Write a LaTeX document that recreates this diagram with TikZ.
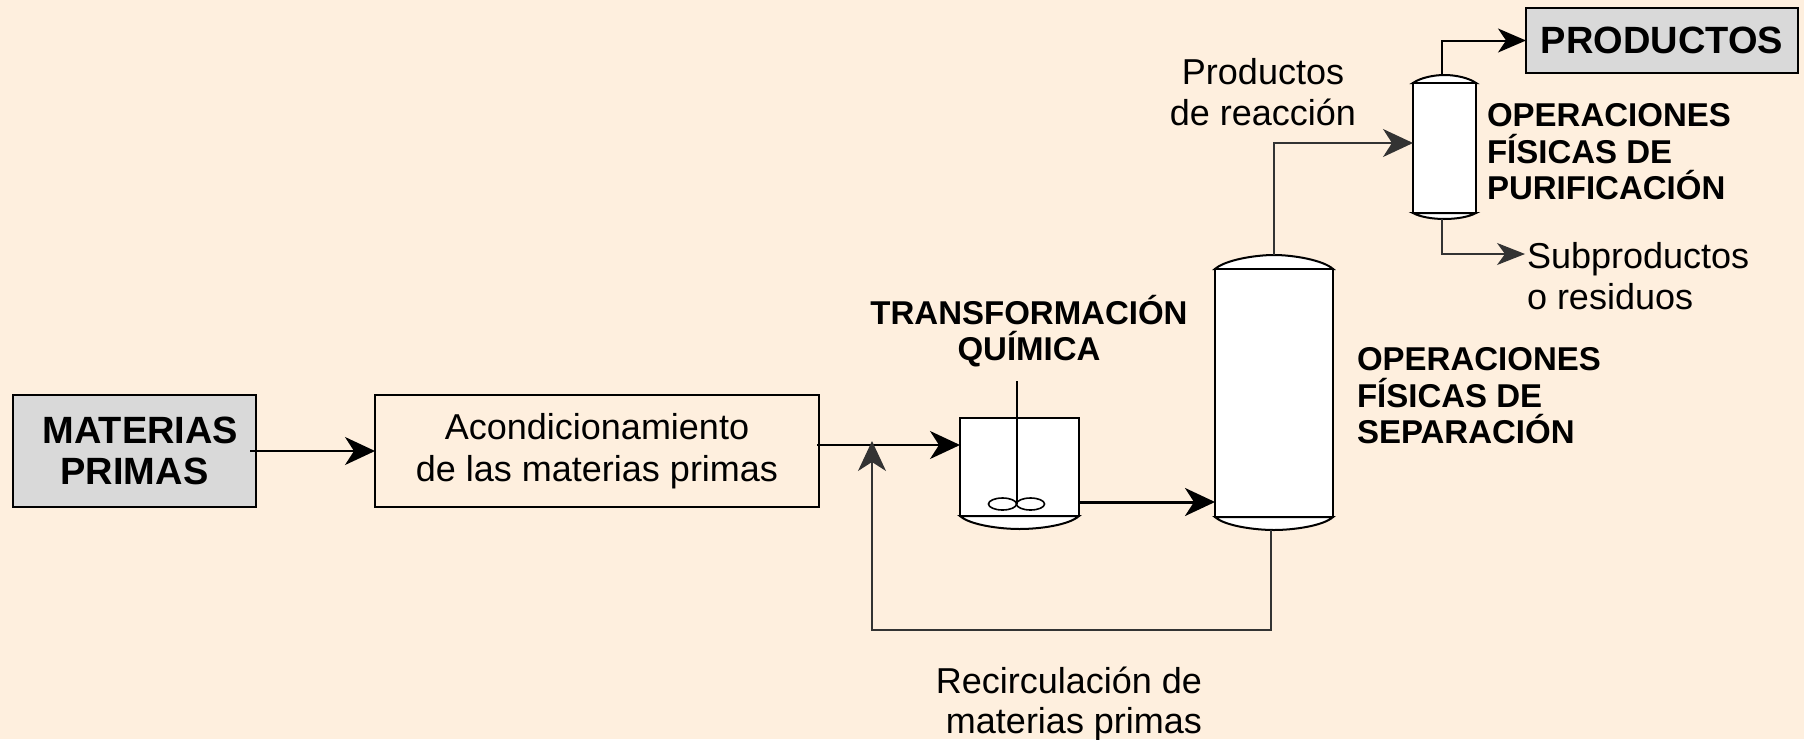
\documentclass[tikz,border=0pt]{standalone}
\usepackage{fontspec}
\setmainfont{Liberation Sans}
\usetikzlibrary{arrows.meta,calc,shapes.geometric}
\definecolor{bgc}{HTML}{FEEFDE}
\definecolor{feedc}{HTML}{D9D9D9}
\tikzset{
  bigtip/.style={-{Stealth[length=30pt,width=28pt,inset=9pt]}},
  midtip/.style={-{Stealth[length=28pt,width=24pt,inset=8pt]}},
  thinline/.style={line width=1.2pt,draw=black!80},
  medline/.style={line width=2pt},
  thickline/.style={line width=3pt},
  feedbox/.style={draw,line width=2.2pt,fill=feedc,inner sep=0pt,outer sep=0pt,align=center,font=\fontsize{38}{41.5}\selectfont\bfseries},
  procbox/.style={draw,line width=2pt,fill=none,inner sep=0pt,outer sep=0pt,align=center,font=\fontsize{36}{41.5}\selectfont},
  vessel/.style={draw,line width=2pt,fill=white,inner sep=0pt,outer sep=0pt},
  plain/.style={inner sep=0pt,outer sep=0pt,align=center,font=\fontsize{36}{41.5}\selectfont},
  plainl/.style={plain,align=left},
  boldl/.style={inner sep=0pt,outer sep=0pt,align=left,font=\fontsize{33}{36.5}\selectfont\bfseries},
  boldc/.style={boldl,align=center},
  dish/.style={line width=2pt,fill=white},
  paddle/.style={draw,line width=1.6pt,fill=white,ellipse,inner sep=0pt,outer sep=0pt,minimum width=28pt,minimum height=12pt}
}
\begin{document}
\begin{tikzpicture}[x=1pt,y=-1pt]
\useasboundingbox (0,0) rectangle (1804,739);
\fill[bgc] (0,0) rectangle (1804,739);

% boxes
\node[feedbox,minimum width=243pt,minimum height=112pt] (mat) at (134.5,451) {\hspace*{12pt}MATERIAS\\PRIMAS};
\node[procbox,minimum width=444pt,minimum height=112pt] (cond) at (597,451) {Acondicionamiento\\de las materias primas};
\node[feedbox,minimum width=272pt,minimum height=65pt] (prod) at (1662,40.5) {PRODUCTOS};

% vessels: dishes first
\coordinate (rsw) at (960,516); \coordinate (rse) at (1079,516);
\draw[dish] (rsw) .. controls (970,525) and (1000,529) .. (1019.5,529) .. controls (1040,529) and (1069,525) .. (rse) -- cycle;
\node[vessel,minimum width=119pt,minimum height=98pt] (reactor) at (1019.5,467) {};

\coordinate (csw) at (1215,517); \coordinate (cse) at (1333,517);
\coordinate (cnw) at (1215,269); \coordinate (cne) at (1333,269);
\draw[dish] (csw) .. controls (1225,526) and (1255,530) .. (1274,530) .. controls (1293,530) and (1323,526) .. (cse) -- cycle;
\draw[dish] (cnw) .. controls (1225,260) and (1255,255) .. (1274,255) .. controls (1293,255) and (1323,260) .. (cne) -- cycle;
\node[vessel,minimum width=118pt,minimum height=248pt] (col) at (1274,393) {};

\coordinate (pnw) at (1413,83); \coordinate (pne) at (1476,83);
\coordinate (psw) at (1413,213); \coordinate (pse) at (1476,213);
\draw[dish] (pnw) .. controls (1420,78) and (1433,75) .. (1444.5,75) .. controls (1456,75) and (1469,78) .. (pne) -- cycle;
\draw[dish] (psw) .. controls (1420,217) and (1433,219) .. (1444.5,219) .. controls (1456,219) and (1469,217) .. (pse) -- cycle;
\node[vessel,minimum width=63pt,minimum height=130pt] (pur) at (1444.5,148) {};

% agitator
\coordinate (shafttop) at (1017,381);
\coordinate (shaftbot) at (1017,504);
\node[paddle] (padl) at (1002.5,504) {};
\node[paddle] (padr) at (1030.5,504) {};
\draw[line width=2pt] (shafttop) -- (shaftbot);

% texts
\node[plain,anchor=base] (rec1) at (1069,693) {Recirculación de};
\node[plain,anchor=base] (rec2) at (1074,733) {materias primas};
\node[plain,anchor=base] (pr1) at (1263,84) {Productos};
\node[plain,anchor=base] (pr2) at (1263,125) {de reacción};
\node[plain,anchor=base west] (sub1) at (1527,268) {Subproductos};
\node[plain,anchor=base west] (sub2) at (1527,309) {o residuos};
\node[boldl,anchor=base west] (op1) at (1487,126) {OPERACIONES};
\node[boldl,anchor=base west] (op2) at (1487,163) {FÍSICAS DE};
\node[boldl,anchor=base west] (op3) at (1487,199) {PURIFICACIÓN};
\node[boldl,anchor=base west] (os1) at (1357,370) {OPERACIONES};
\node[boldl,anchor=base west] (os2) at (1357,407) {FÍSICAS DE};
\node[boldl,anchor=base west] (os3) at (1357,443) {SEPARACIÓN};
\node[boldc,anchor=base] (tq1) at (1029,324) {TRANSFORMACIÓN};
\node[boldc,anchor=base] (tq2) at (1029,360) {QUÍMICA};

% connectors
\coordinate (matout) at (250,451);
\draw[medline,bigtip] (matout) -- (cond.west);
\coordinate (condout) at (817,445);
\coordinate (rin) at (reactor.west |- condout);
\draw[medline,bigtip] (condout) -- (rin);
\coordinate (rout) at (reactor.east |- 0,502);
\coordinate (cin) at (col.west |- 0,502);
\draw[thickline,bigtip] (rout) -- (cin);
\coordinate (colout) at (1271,530);
\coordinate (rectip) at (872,441);
\draw[thinline,bigtip] (colout) -- (1271,630) -- (872,630) -- (rectip);
\coordinate (coltop) at (1274,255);
\coordinate (pin) at (pur.west |- 0,143);
\draw[thinline,line width=1.5pt,bigtip] (coltop) -- (coltop |- pin) -- (pin);
\coordinate (purtop) at (1442,75);
\coordinate (prodin) at (prod.west);
\draw[medline,midtip] (purtop) -- (purtop |- prodin) -- (prodin);
\coordinate (purbot) at (1442,219);
\coordinate (subin) at (1525,254);
\draw[thinline,-{Stealth[length=28pt,width=22pt,inset=8pt]}] (purbot) -- (purbot |- subin) -- (subin);
\end{tikzpicture}
\end{document}
